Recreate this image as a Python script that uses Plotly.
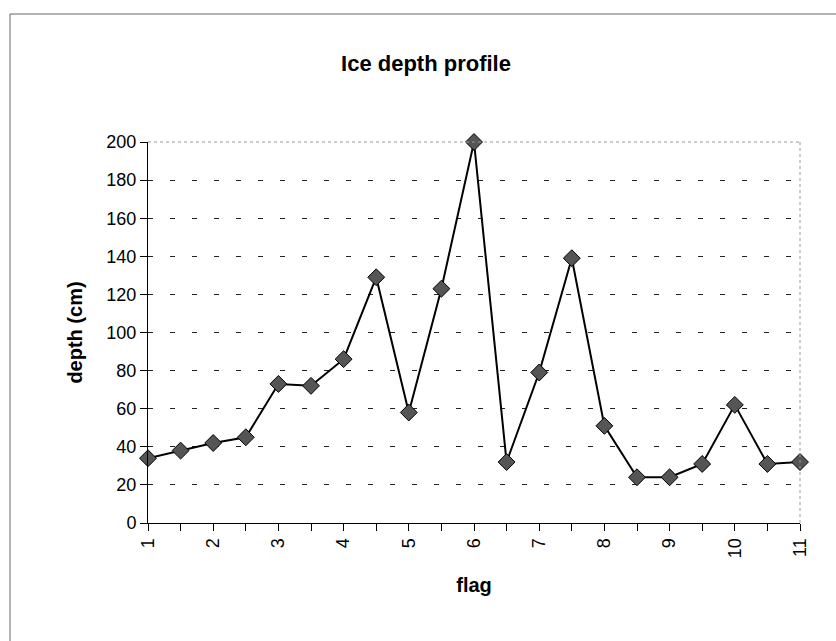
import plotly.graph_objects as go

# Flag positions along the survey line and measured ice depth at each
flag = [1, 1.5, 2, 2.5, 3, 3.5, 4, 4.5, 5, 5.5, 6,
        6.5, 7, 7.5, 8, 8.5, 9, 9.5, 10, 10.5, 11]
depth_cm = [34, 38, 42, 45, 73, 72, 86, 129, 58, 123, 200,
            32, 79, 139, 51, 24, 24, 31, 62, 31, 32]
flag_labels = ["1", "", "2", "", "3", "", "4", "", "5", "", "6",
               "", "7", "", "8", "", "9", "", "10", "", "11"]

FONT = "Liberation Sans, Arial, sans-serif"

fig = go.Figure()
fig.add_trace(go.Scatter(
    x=flag, y=depth_cm,
    mode="lines+markers",
    line=dict(color="black", width=2),
    marker=dict(symbol="diamond", size=13, color="#555555",
                line=dict(color="black", width=1)),
    cliponaxis=False,
    showlegend=False,
))

W, H = 836, 641
L, R, T, B = 148, 36, 142, 118
pw, ph = W - L - R, H - T - B

fig.update_layout(
    width=W, height=H,
    margin=dict(l=L, r=R, t=T, b=B),
    paper_bgcolor="white", plot_bgcolor="white",
    font=dict(family=FONT, color="black", size=18),
    title=dict(text="<b>Ice depth profile</b>", x=426 / W, xanchor="center",
               y=1 - 63 / H, yanchor="middle", xref="container", yref="container",
               font=dict(size=22, family=FONT, color="black")),
)

fig.update_xaxes(
    range=[1, 11],
    tickmode="array", tickvals=flag, ticktext=flag_labels,
    tickangle=-90, ticks="outside", ticklen=7, tickcolor="black", tickwidth=1,
    showline=True, linecolor="black", linewidth=1,
    showgrid=False, zeroline=False,
    tickfont=dict(size=18, family=FONT),
    title=dict(text="<b>flag</b>", standoff=20, font=dict(size=20, family=FONT)),
)
fig.update_yaxes(
    range=[0, 200], dtick=20, tick0=0,
    ticks="outside", ticklen=7, tickcolor="black", tickwidth=1,
    showline=True, linecolor="black", linewidth=1,
    showgrid=True, gridcolor="#222222", gridwidth=1, griddash="5px,17px",
    zeroline=False,
    tickfont=dict(size=18, family=FONT),
    title=dict(text="<b>depth (cm)</b>", standoff=18, font=dict(size=20, family=FONT)),
)

# Plot-area frame: light dotted top and right edges
fig.add_shape(type="line", xref="x domain", yref="y domain",
              x0=0, x1=1, y0=1, y1=1, line=dict(color="#999999", width=1, dash="dot"))
fig.add_shape(type="line", xref="x domain", yref="y domain",
              x0=1, x1=1, y0=0, y1=1, line=dict(color="#999999", width=1, dash="dot"))

# Chart-area border (left and top edges)
def px_x(v):
    return (v - L) / pw

def px_y(v):
    return (H - B - v) / ph

fig.add_shape(type="line", xref="paper", yref="paper",
              x0=px_x(10), x1=px_x(10), y0=px_y(H), y1=px_y(14),
              line=dict(color="#666666", width=1))
fig.add_shape(type="line", xref="paper", yref="paper",
              x0=px_x(10), x1=px_x(W), y0=px_y(14), y1=px_y(14),
              line=dict(color="#666666", width=1))

fig.write_html("out.html")
